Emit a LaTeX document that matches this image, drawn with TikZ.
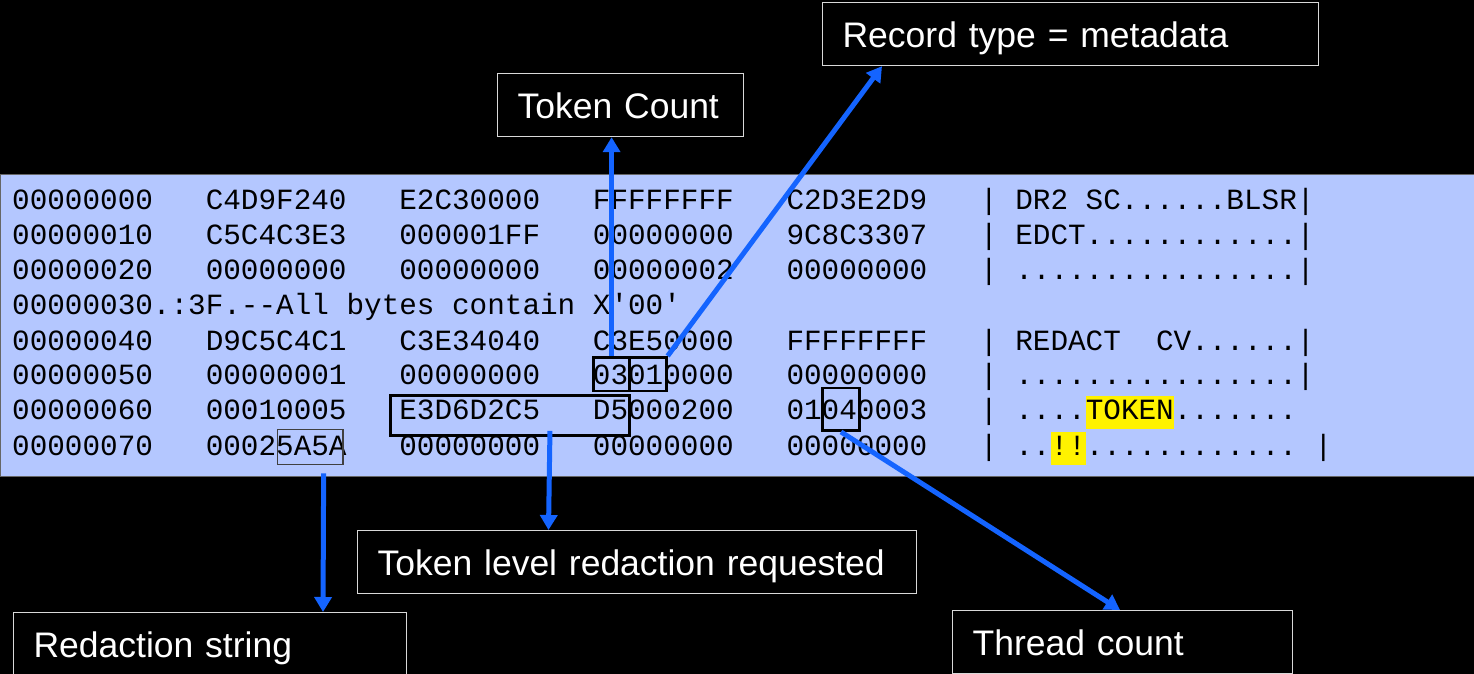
\documentclass[tikz,border=0pt]{standalone}
\usepackage{fontspec}
\setmainfont{Liberation Sans}
\newfontfamily\hexfont{Liberation Mono}
\usetikzlibrary{arrows.meta}
\definecolor{band}{RGB}{180,199,255}
\definecolor{arrowblue}{RGB}{20,100,255}
\newcommand\hlbox[1]{{\setlength{\fboxsep}{0pt}\colorbox{yellow}{\rule[-9.3pt]{0pt}{33.3pt}#1}}}
\begin{document}
\begin{tikzpicture}[x=1pt,y=-1pt,
  hexrow/.style={anchor=base west, inner sep=0pt, font=\hexfont\fontsize{29.33}{35.2}\selectfont, text=black},
  markbox/.style={draw=black, line width=2.6pt, anchor=north west, inner sep=0pt},
  thinmark/.style={draw=black!75, line width=1.3pt, anchor=north west, inner sep=0pt},
  labelbox/.style={draw=white!85!black, line width=1.2pt, fill=black, text=white, anchor=north west,
    inner xsep=20pt, inner ysep=0pt, minimum height=63pt, text height=30pt, text depth=4pt,
    align=left, font=\fontsize{35.5}{42}\selectfont},
  callout/.style={draw=arrowblue, line width=5pt, -{Triangle[width=17pt,length=15pt]}}
]
\useasboundingbox (0,0) rectangle (1474,674);
\clip (0,0) rectangle (1474,674);
\fill[black] (0,0) rectangle (1474,674);
\fill[band, draw=black!60, line width=1pt] (0,174) rectangle (1474,476);

\node[hexrow] (row1) at (12,209.3) {00000000~~~C4D9F240~~~E2C30000~~~FFFFFFFF~~~C2D3E2D9~~~|~DR2~SC......BLSR|};
\node[hexrow] (row2) at (12,244.5) {00000010~~~C5C4C3E3~~~000001FF~~~00000000~~~9C8C3307~~~|~EDCT............|};
\node[hexrow] (row3) at (12,279.7) {00000020~~~00000000~~~00000000~~~00000002~~~00000000~~~|~................|};
\node[hexrow] (row4) at (12,314.9) {00000030.:3F.{-}{-}All~bytes~contain~X\textquotesingle 00\textquotesingle};
\node[hexrow] (row5) at (12,350.1) {00000040~~~D9C5C4C1~~~C3E34040~~~C3E50000~~~FFFFFFFF~~~|~REDACT~~CV......|};
\node[hexrow] (row6) at (12,384.5) {00000050~~~00000001~~~00000000~~~03010000~~~00000000~~~|~................|};
\node[hexrow] (row7) at (12,419.5) {00000060~~~00010005~~~E3D6D2C5~~~D5000200~~~01040003~~~|~....\hlbox{TOKEN}.......};
\node[hexrow] (row8) at (12,455.7) {00000070~~~00025A5A~~~00000000~~~00000000~~~00000000~~~|~..\hlbox{!!}............~|};

\node[markbox, minimum width=36.6pt, minimum height=33.6pt] (box03) at (592,356) {};
\node[markbox, minimum width=36.7pt, minimum height=33.6pt] (box01) at (628.3,356) {};
\node[markbox, minimum width=239.3pt, minimum height=40.3pt] (boxTok) at (389,394) {};
\node[markbox, minimum width=37.3pt, minimum height=42.6pt] (box04) at (821,386.7) {};
\node[thinmark, minimum width=65.6pt, minimum height=35pt] (box5A) at (276.7,429) {};

\node[labelbox, text width=206pt] (tc) at (497,73) {Token Count};
\node[labelbox, text width=456pt] (rt) at (822,2) {Record type = metadata};
\node[labelbox, text width=519pt] (tl) at (357,530) {Token level redaction requested};
\node[labelbox, text width=353pt] (rs) at (13,612) {Redaction string};
\node[labelbox, text width=300pt] (thc) at (952,610) {Thread count};

\draw[callout] (box03.north) -- (box03.north |- tc.south);
\draw[callout] (box01.north east) -- ([xshift=60pt]rt.south west);
\draw[callout] ([xshift=40pt,yshift=6pt]boxTok.south) -- ([xshift=191.5pt]tl.north west);
\draw[callout] ([xshift=13.5pt,yshift=-8pt]box5A.south) -- ([xshift=310pt]rs.north west);
\draw[callout] (box04.south) -- ([xshift=168pt]thc.north west);
\end{tikzpicture}
\end{document}
